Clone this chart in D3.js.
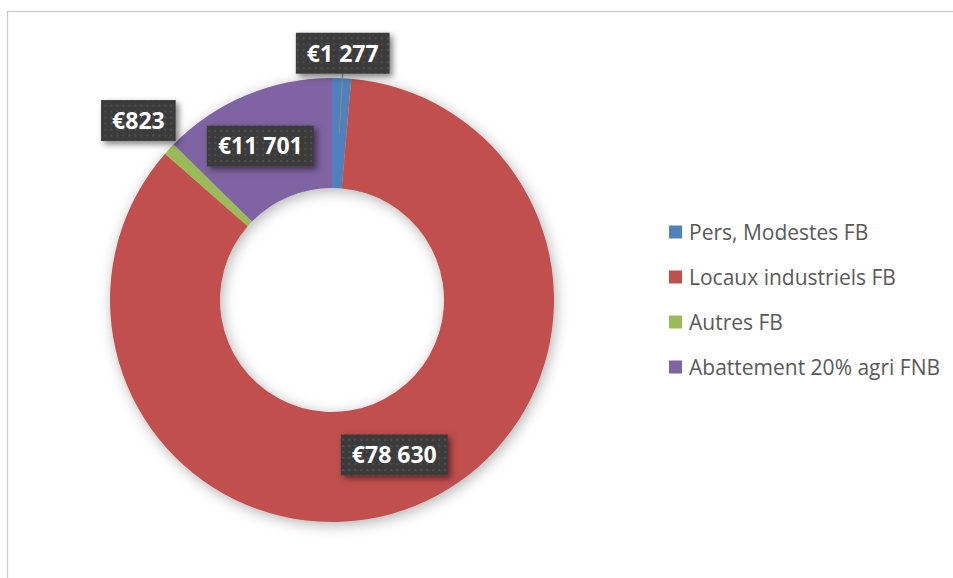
<!DOCTYPE html>
<html>
<head>
<meta charset="utf-8">
<script src="https://cdn.jsdelivr.net/npm/d3@7"></script>
<style>
  body { margin: 0; background: #fff; }
  svg { display: block; }
</style>
</head>
<body>
<div id="chart"></div>
<script>
// Chart data
var categories = ["Pers, Modestes FB", "Locaux industriels FB", "Autres FB", "Abattement 20% agri FNB"];
var values = [1277, 78630, 823, 11701];
var colors = ["#4f81bd", "#c0504d", "#9bbb59", "#8064a2"];

// Where each data label sits (distance from centre) and small manual nudges
var labelRadius = [247, 167, 264, 167];
var labelShift = [[0, 0], [0, 0], [0, 0], [-7, 0]];
var showLeader = [true, false, false, false];

var width = 953,
  height = 578,
  cx = 332,
  cy = 300,
  outerR = 222,
  innerR = 112;

var euro = d3.formatLocale({
  decimal: ",",
  thousands: " ",
  grouping: [3],
  currency: ["€", ""]
}).format("$,");

var svg = d3.select("#chart")
  .append("svg")
  .attr("width", width)
  .attr("height", height);

var defs = svg.append("defs");

// Soft shadow round the ring
var ringShadow = defs.append("filter")
  .attr("id", "ringShadow")
  .attr("x", "-20%").attr("y", "-20%")
  .attr("width", "140%").attr("height", "140%");
ringShadow.append("feDropShadow")
  .attr("dx", 2).attr("dy", 3)
  .attr("stdDeviation", 7)
  .attr("flood-color", "#000")
  .attr("flood-opacity", 0.3);

// Shadow for the label boxes
var boxShadow = defs.append("filter")
  .attr("id", "boxShadow")
  .attr("x", "-20%").attr("y", "-30%")
  .attr("width", "150%").attr("height", "180%");
boxShadow.append("feDropShadow")
  .attr("dx", 3).attr("dy", 3)
  .attr("stdDeviation", 3)
  .attr("flood-color", "#000")
  .attr("flood-opacity", 0.5);

// Dotted dark fill for the label boxes
var dots = defs.append("pattern")
  .attr("id", "dots")
  .attr("patternUnits", "userSpaceOnUse")
  .attr("width", 6).attr("height", 6);
dots.append("rect")
  .attr("width", 6).attr("height", 6)
  .attr("fill", "#3b3b3b");
dots.append("rect")
  .attr("x", 2).attr("y", 2)
  .attr("width", 2).attr("height", 2)
  .attr("fill", "#4f4f4f");

// Frame
svg.append("rect")
  .attr("x", 7.5)
  .attr("y", 11.5)
  .attr("width", 960)
  .attr("height", 580)
  .attr("fill", "none")
  .attr("stroke", "#c9c9c9")
  .attr("stroke-width", 1.2);

var data = categories.map(function (c, i) {
  return { name: c, value: values[i], color: colors[i], i: i };
});

var pie = d3.pie()
  .sort(null)
  .value(function (d) { return d.value; });

var arc = d3.arc()
  .innerRadius(innerR)
  .outerRadius(outerR);

var arcs = pie(data);

var g = svg.append("g")
  .attr("transform", "translate(" + cx + "," + cy + ")");

// The ring
g.append("g")
  .attr("filter", "url(#ringShadow)")
  .selectAll("path")
  .data(arcs)
  .enter()
  .append("path")
  .attr("d", arc)
  .attr("fill", function (d) { return d.data.color; });

// Label position on a ray through the slice middle
function labelPoint(d) {
  var a = (d.startAngle + d.endAngle) / 2;
  var r = labelRadius[d.data.i];
  var s = labelShift[d.data.i];
  return [r * Math.sin(a) + s[0], -r * Math.cos(a) + s[1]];
}

// Leader lines
g.selectAll("line.leader")
  .data(arcs.filter(function (d) { return showLeader[d.data.i]; }))
  .enter()
  .append("line")
  .attr("class", "leader")
  .attr("x1", function (d) { return labelPoint(d)[0]; })
  .attr("y1", function (d) { return labelPoint(d)[1] + 20; })
  .attr("x2", function (d) { return arc.centroid(d)[0]; })
  .attr("y2", function (d) { return arc.centroid(d)[1]; })
  .attr("stroke", "#8a8a8a")
  .attr("stroke-width", 1);

// Data labels
var labels = g.selectAll("g.label")
  .data(arcs)
  .enter()
  .append("g")
  .attr("class", "label")
  .attr("transform", function (d) {
    return "translate(" + labelPoint(d) + ")";
  });

var boxes = labels.append("rect")
  .attr("fill", "url(#dots)")
  .attr("filter", "url(#boxShadow)");

var texts = labels.append("text")
  .attr("text-anchor", "middle")
  .attr("dy", "0.36em")
  .style("font-family", "'Open Sans', sans-serif")
  .style("font-weight", 700)
  .style("font-size", "23px")
  .attr("fill", "#fff")
  .text(function (d) { return euro(d.data.value); });

texts.each(function () {
  var w = this.getComputedTextLength();
  d3.select(this.previousSibling)
    .attr("x", -w / 2 - 11)
    .attr("y", -20.5)
    .attr("width", w + 22)
    .attr("height", 41);
});

// Legend
var legend = svg.append("g")
  .selectAll("g")
  .data(data)
  .enter()
  .append("g")
  .attr("transform", function (d, i) {
    return "translate(669," + (232 + i * 45) + ")";
  });

legend.append("rect")
  .attr("x", 0)
  .attr("y", -6.5)
  .attr("width", 13)
  .attr("height", 13)
  .attr("fill", function (d) { return d.color; });

legend.append("text")
  .attr("x", 20)
  .attr("dy", "0.36em")
  .style("font-family", "'Open Sans', sans-serif")
  .style("font-size", "21px")
  .attr("fill", "#595959")
  .text(function (d) { return d.name; });
</script>
</body>
</html>
